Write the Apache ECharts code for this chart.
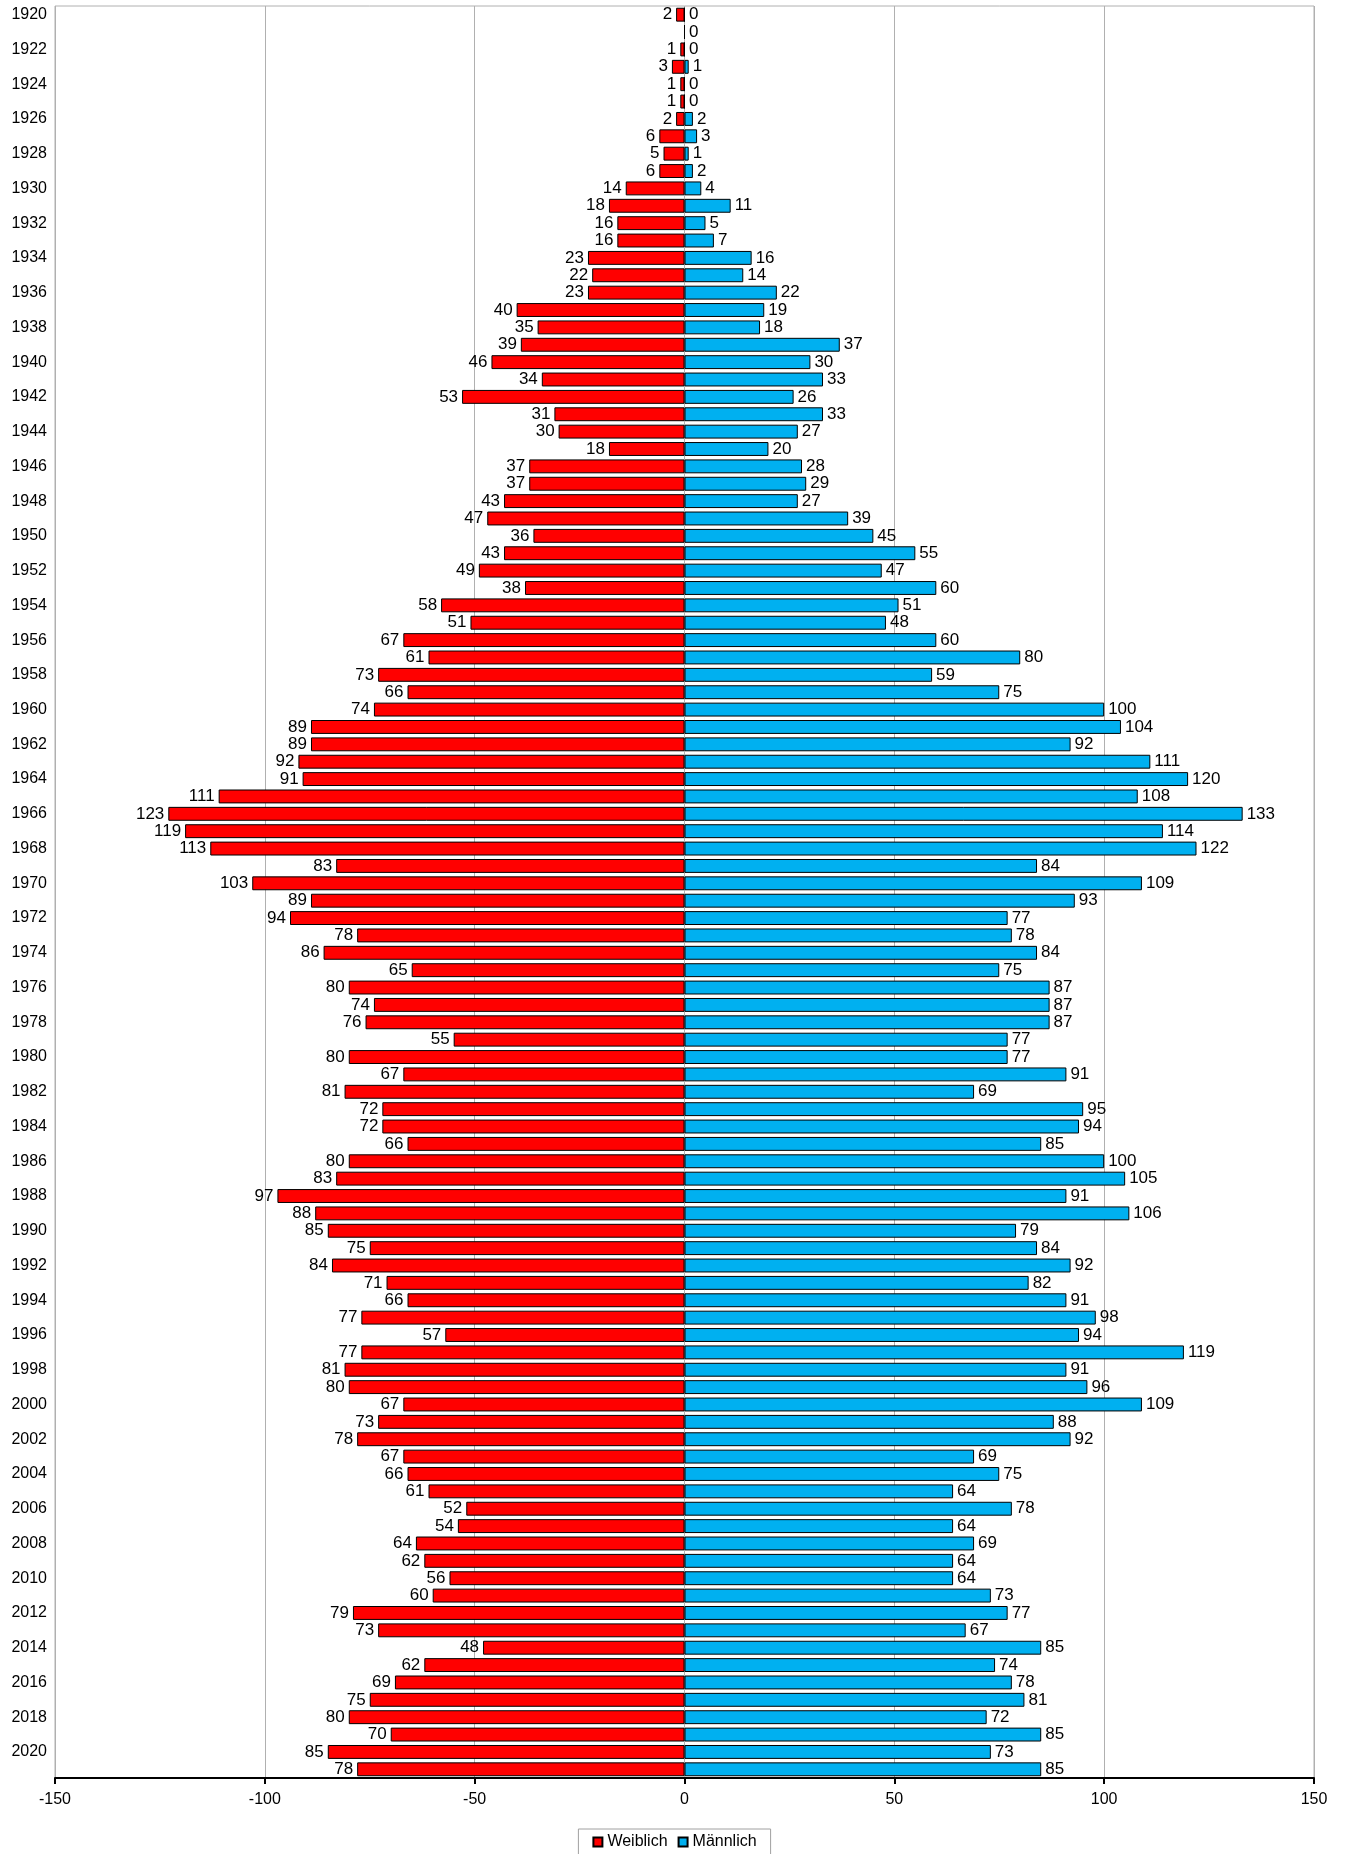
<!DOCTYPE html>
<html><head><meta charset="utf-8">
<script src="https://cdn.jsdelivr.net/npm/echarts@6/dist/echarts.min.js"></script>
<style>html,body{margin:0;padding:0;background:#fff}#c{width:1349px;height:1854px}</style>
</head><body><div id="c"></div>
<script>
const years = [];
for (let y = 1920; y <= 2021; y++) years.push(String(y));
const weiblich = [2,null,1,3,1,1,2,6,5,6,14,18,16,16,23,22,23,40,35,39,46,34,53,31,30,18,37,37,43,47,36,43,49,38,58,51,67,61,73,66,74,89,89,92,91,111,123,119,113,83,103,89,94,78,86,65,80,74,76,55,80,67,81,72,72,66,80,83,97,88,85,75,84,71,66,77,57,77,81,80,67,73,78,67,66,61,52,54,64,62,56,60,79,73,48,62,69,75,80,70,85,78];
const maennlich = [0,0,0,1,0,0,2,3,1,2,4,11,5,7,16,14,22,19,18,37,30,33,26,33,27,20,28,29,27,39,45,55,47,60,51,48,60,80,59,75,100,104,92,111,120,108,133,114,122,84,109,93,77,78,84,75,87,87,87,77,77,91,69,95,94,85,100,105,91,106,79,84,92,82,91,98,94,119,91,96,109,88,92,69,75,64,78,64,69,64,64,73,77,67,85,74,78,81,72,85,73,85];
const xTicks = [-150,-100,-50,0,50,100,150];

const chart = echarts.init(document.getElementById('c'));
const font = 'Liberation Sans, Arial, sans-serif';
chart.setOption({
  animation: false,
  textStyle: {fontFamily: font},
  grid: {left: 55, right: 35, top: 6, bottom: 76, show: true, borderColor: '#b0b0b0', borderWidth: 1},
  legend: {
    bottom: -2, left: 'center', icon: 'rect', itemWidth: 9, itemHeight: 9, itemGap: 10,
    borderColor: '#a0a0a0', borderWidth: 1, padding: [5, 14, 6, 14],
    textStyle: {fontSize: 16, color: '#000', fontFamily: font},
    data: ['Weiblich', 'Männlich']
  },
  xAxis: {
    type: 'value', min: xTicks[0], max: xTicks[xTicks.length-1], interval: 50,
    axisLine: {show: true, onZero: false, lineStyle: {color: '#000', width: 2}},
    axisTick: {show: true, length: 6, lineStyle: {color: '#000', width: 2}},
    axisLabel: {fontSize: 16, color: '#000', margin: 14, fontFamily: font},
    splitLine: {show: true, lineStyle: {color: '#b0b0b0', width: 1}}
  },
  yAxis: {
    type: 'category', data: years, inverse: true,
    axisLine: {show: false}, axisTick: {show: false},
    axisLabel: {interval: 1, fontSize: 16, color: '#000', margin: 8, fontFamily: font}
  },
  series: [
    {
      name: 'Weiblich', type: 'bar', barGap: '-100%', barCategoryGap: '20%',
      data: weiblich.map(v => v === null ? null : -v),
      itemStyle: {color: '#ff0000', borderColor: '#000', borderWidth: 1},
      label: {show: true, position: 'left', distance: 4, fontSize: 17, color: '#000', fontFamily: font,
        formatter: p => p.value === null || p.value === undefined ? '' : String(Math.abs(p.value))}
    },
    {
      name: 'Männlich', type: 'bar', barGap: '-100%', barCategoryGap: '20%',
      data: maennlich,
      itemStyle: {color: '#00b0f0', borderColor: '#000', borderWidth: 1},
      label: {show: true, position: 'right', distance: 4, fontSize: 17, color: '#000', fontFamily: font}
    }
  ]
});
</script></body></html>
